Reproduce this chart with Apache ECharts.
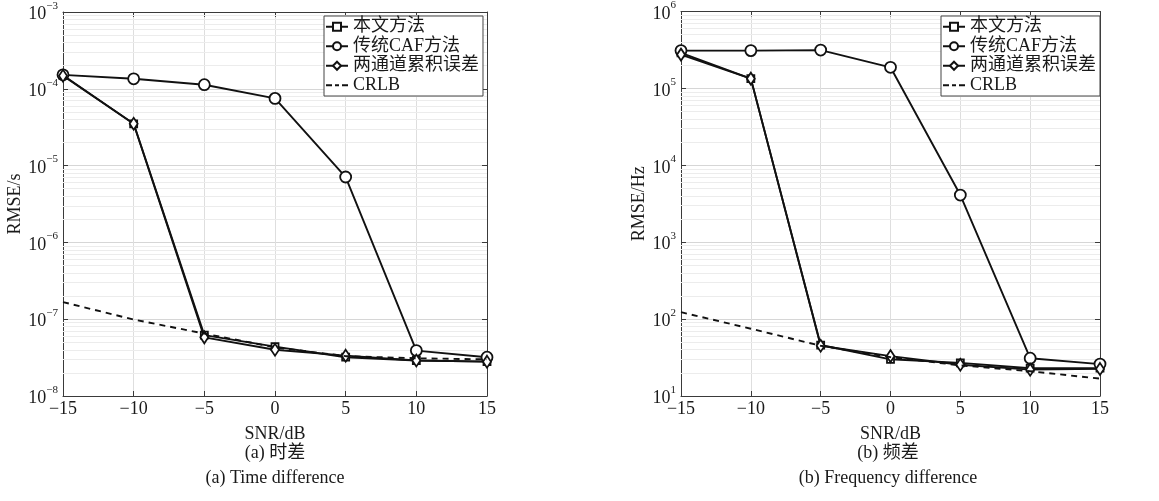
<!DOCTYPE html>
<html><head><meta charset="utf-8">
<script src="https://cdn.jsdelivr.net/npm/echarts@6/dist/echarts.min.js"></script>
<style>html,body{margin:0;padding:0;background:#fff}#c{width:1159px;height:501px}</style>
</head><body><div id="c"></div>
<script>
const snr = [-15, -10, -5, 0, 5, 10, 15];
const legendNames = ['本文方法', '传统CAF方法', '两通道累积误差', 'CRLB'];
// (a) time difference, RMSE/s
const tdProposed = [1.50e-4, 3.5e-5, 6.2e-8, 4.4e-8, 3.2e-8, 2.9e-8, 2.8e-8];
const tdCAF      = [1.52e-4, 1.35e-4, 1.13e-4, 7.5e-5, 7.1e-6, 3.9e-8, 3.2e-8];
const tdTwoCh    = [1.48e-4, 3.5e-5, 5.8e-8, 4.0e-8, 3.35e-8, 2.9e-8, 2.8e-8];
const tdCRLB     = [1.67e-7, 9.9e-8, 6.5e-8, 4.3e-8, 3.3e-8, 3.1e-8, 3.0e-8];
// (b) frequency difference, RMSE/Hz
const fdProposed = [2.9e5, 1.34e5, 46, 30, 27, 23, 23];
const fdCAF      = [3.1e5, 3.1e5, 3.15e5, 1.88e5, 4.1e3, 31, 26];
const fdTwoCh    = [2.75e5, 1.34e5, 45, 33, 25.5, 22, 22.5];
const fdCRLB     = [123, 75, 45, 32, 25, 21, 16.8];
const tdRange = [1e-8, 1e-3];
const fdRange = [1e1, 1e6];

const FONT = '"Liberation Serif", "Noto Sans CJK SC", serif';
const TXT = '#1a1a1a';
const AX = '#3a3a3a';

function pairs(ys) { return snr.map((x, i) => [x, ys[i]]); }
function minorValues(r) {
  const out = [];
  const e0 = Math.round(Math.log10(r[0])), e1 = Math.round(Math.log10(r[1]));
  for (let e = e0; e < e1; e++) for (let k = 2; k <= 9; k++) out.push(k * Math.pow(10, e));
  return out;
}
function expLabel(v) {
  const e = Math.round(Math.log10(v));
  return '{b|10}{s|' + (e < 0 ? '\u2212' + (-e) : e) + '}';
}
function xLabel(v) { return v < 0 ? '\u2212' + (-v) : String(v); }

const grids = [
  { left: 63, top: 12, width: 424, height: 384 },
  { left: 681, top: 11, width: 419, height: 385 }
];
const xAxes = [], yAxes = [], series = [];
const sets = [
  { range: tdRange, name: 'RMSE/s', gap: 33, data: [tdProposed, tdCAF, tdTwoCh, tdCRLB] },
  { range: fdRange, name: 'RMSE/Hz', gap: 30, data: [fdProposed, fdCAF, fdTwoCh, fdCRLB] }
];
sets.forEach((s, g) => {
  xAxes.push({
    type: 'value', gridIndex: g, min: -15, max: 15, interval: 5, position: 'bottom',
    name: 'SNR/dB', nameLocation: 'middle', nameGap: 29,
    nameTextStyle: { fontFamily: FONT, fontSize: 18, color: TXT },
    axisLine: { show: true, onZero: false, lineStyle: { color: AX, width: 1 } },
    axisTick: { show: true, inside: true, length: 5, lineStyle: { color: AX } },
    axisLabel: { formatter: xLabel, fontFamily: FONT, fontSize: 18, color: TXT, margin: 4 },
    splitLine: { show: true, lineStyle: { color: '#dedede', width: 1 } }
  });
  xAxes.push({
    type: 'value', gridIndex: g, min: -15, max: 15, interval: 5, position: 'top',
    axisLine: { show: true, onZero: false, lineStyle: { color: AX, width: 1 } },
    axisTick: { show: true, inside: true, length: 5, lineStyle: { color: AX } },
    axisLabel: { show: false }, splitLine: { show: false }
  });
  yAxes.push({
    type: 'log', logBase: 10, gridIndex: g, min: s.range[0], max: s.range[1], splitNumber: 5,
    position: 'left',
    name: s.name, nameLocation: 'middle', nameGap: s.gap,
    nameTextStyle: { fontFamily: FONT, fontSize: 18, color: TXT },
    axisLine: { show: true, onZero: false, lineStyle: { color: AX, width: 1 } },
    axisTick: { show: true, inside: true, length: 5, lineStyle: { color: AX } },
    axisLabel: {
      formatter: expLabel, margin: 5,
      rich: {
        b: { fontFamily: FONT, fontSize: 18, color: TXT, padding: [5, 0, 0, 0] },
        s: { fontFamily: FONT, fontSize: 11, color: TXT, verticalAlign: 'top' }
      }
    },
    splitLine: { show: true, lineStyle: { color: '#d6d6d6', width: 1 } }
  });
  yAxes.push({
    type: 'log', logBase: 10, gridIndex: g, min: s.range[0], max: s.range[1], splitNumber: 5,
    position: 'right',
    axisLine: { show: true, onZero: false, lineStyle: { color: AX, width: 1 } },
    axisTick: { show: true, inside: true, length: 5, lineStyle: { color: AX } },
    axisLabel: { show: false }, splitLine: { show: false }
  });
  const xi = g * 2, yi = g * 2;
  const styles = [
    { symbol: 'rect', symbolSize: 7 },
    { symbol: 'circle', symbolSize: 11 },
    { symbol: 'diamond', symbolSize: [8, 12] },
    { symbol: 'none', symbolSize: 0, dashed: true }
  ];
  [1, 0, 2, 3].forEach(k => {
    const st = styles[k];
    const ser = {
      type: 'line', name: legendNames[k], xAxisIndex: xi, yAxisIndex: yi,
      data: pairs(s.data[k]), z: 3 + k, animation: false,
      symbol: st.symbol, symbolSize: st.symbolSize, showSymbol: st.symbol !== 'none',
      lineStyle: { color: '#111', width: 1.9, type: st.dashed ? [6, 5] : 'solid' },
      itemStyle: { color: '#fff', borderColor: '#111', borderWidth: 1.8 },
      emphasis: { disabled: true }
    };
    if (st.dashed) {
      ser.markLine = {
        silent: true, z: 1, precision: 14, symbol: ['none', 'none'], animation: false,
        label: { show: false }, emphasis: { disabled: true },
        lineStyle: { color: '#ececec', type: 'solid', width: 1 },
        data: minorValues(s.range).map(v => ({ yAxis: v }))
      };
    }
    series.push(ser);
  });
});

const crlbIcon = 'path://M0,0L0.1,0M0,10L0.1,10M0,4h6v2h-6zM9,4h4v2h-4zM16,4h6v2h-6z';
const legendData = legendNames.map((n, i) => i === 3
  ? { name: n, icon: crlbIcon, itemStyle: { color: '#111', borderWidth: 0 } }
  : { name: n });
const legendCommon = {
  orient: 'vertical', data: legendData, itemWidth: 22, itemHeight: 10, itemGap: 0,
  backgroundColor: '#fff', borderColor: '#444', borderWidth: 1, borderRadius: 0,
  padding: [1, 4, 1, 1], selectedMode: false,
  textStyle: { fontFamily: FONT, fontSize: 18, color: TXT, lineHeight: 19.5 }
};
const capStyle = (t) => ({ text: t, font: '18px ' + FONT, fill: TXT, align: 'center', verticalAlign: 'middle', textAlign: 'center', textVerticalAlign: 'middle' });
const option = {
  backgroundColor: '#fff',
  animation: false,
  grid: grids,
  xAxis: xAxes,
  yAxis: yAxes,
  legend: [
    Object.assign({}, legendCommon, { left: 324, top: 16 }),
    Object.assign({}, legendCommon, { left: 941, top: 16 })
  ],
  graphic: [
    { type: 'text', x: 275, y: 453, style: capStyle('(a) 时差') },
    { type: 'text', x: 275, y: 478, style: capStyle('(a) Time difference') },
    { type: 'text', x: 888, y: 453, style: capStyle('(b) 频差') },
    { type: 'text', x: 888, y: 478, style: capStyle('(b) Frequency difference') }
  ],
  series: series
};
const chart = echarts.init(document.getElementById('c'), null, { renderer: 'canvas' });
chart.setOption(option);
</script>
</body></html>
